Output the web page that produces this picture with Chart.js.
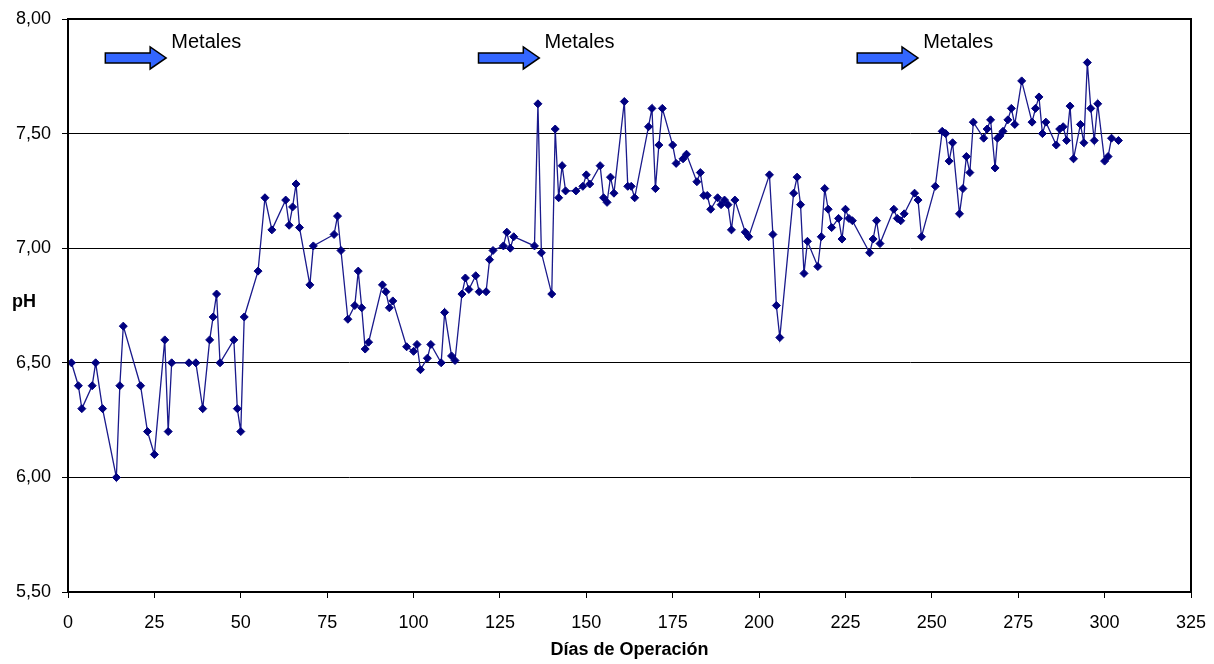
<!DOCTYPE html>
<html>
<head>
<meta charset="utf-8">
<script src="https://cdn.jsdelivr.net/npm/chart.js@4.4.1/dist/chart.umd.min.js"></script>
<style>
  body { margin: 0; background: #fff; }
</style>
</head>
<body>
<canvas id="phChart" width="1214" height="664"></canvas>
<script>
// -------- DATA: DIA DE OPERACION Y pH ---------------
const dias = [
  1, 3, 4, 7, 8, 10, 14, 15, 16, 21, 23, 25, 28, 29, 30, 35, 37, 39, 41, 42,
  43, 44, 48, 49, 50, 51, 55, 57, 59, 63, 64, 65, 66, 67, 70, 71, 77, 78, 79, 81,
  83, 84, 85, 86, 87, 91, 92, 93, 94, 98, 100, 101, 102, 104, 105, 108, 109, 111, 112, 114,
  115, 116, 118, 119, 121, 122, 123, 126, 127, 128, 129, 135, 136, 137, 140, 141, 142, 143, 144, 147,
  149, 150, 151, 154, 155, 156, 157, 158, 161, 162, 163, 164, 168, 169, 170, 171, 172, 175, 176, 178,
  179, 182, 183, 184, 185, 186, 188, 189, 190, 191, 192, 193, 196, 197, 203, 204, 205, 206, 210, 211,
  212, 213, 214, 217, 218, 219, 220, 221, 223, 224, 225, 226, 227, 232, 233, 234, 235, 239, 240, 241,
  242, 245, 246, 247, 251, 253, 254, 255, 256, 258, 259, 260, 261, 262, 265, 266, 267, 268.3, 269, 269.7,
  270.6, 272, 273, 274, 276, 279, 280, 281, 282, 283, 286, 287, 288, 289, 290, 291, 293, 294, 295, 296,
  297, 298, 300, 301, 302, 304
];
const ph = [
  6.50, 6.40, 6.30, 6.40, 6.50, 6.30, 6.00, 6.40, 6.66, 6.40, 6.20, 6.10, 6.60, 6.20, 6.50, 6.50, 6.50, 6.30, 6.60, 6.70,
  6.80, 6.50, 6.60, 6.30, 6.20, 6.70, 6.90, 7.22, 7.08, 7.21, 7.10, 7.18, 7.28, 7.09, 6.84, 7.01, 7.06, 7.14, 6.99, 6.69,
  6.75, 6.90, 6.74, 6.56, 6.59, 6.84, 6.81, 6.74, 6.77, 6.57, 6.55, 6.58, 6.47, 6.52, 6.58, 6.50, 6.72, 6.53, 6.51, 6.80,
  6.87, 6.82, 6.88, 6.81, 6.81, 6.95, 6.99, 7.01, 7.07, 7.00, 7.05, 7.01, 7.63, 6.98, 6.80, 7.52, 7.22, 7.36, 7.25, 7.25,
  7.27, 7.32, 7.28, 7.36, 7.22, 7.20, 7.31, 7.24, 7.64, 7.27, 7.27, 7.22, 7.53, 7.61, 7.26, 7.45, 7.61, 7.45, 7.37, 7.39,
  7.41, 7.29, 7.33, 7.23, 7.23, 7.17, 7.22, 7.19, 7.21, 7.19, 7.08, 7.21, 7.07, 7.05, 7.32, 7.06, 6.75, 6.61, 7.24, 7.31,
  7.19, 6.89, 7.03, 6.92, 7.05, 7.26, 7.17, 7.09, 7.13, 7.04, 7.17, 7.13, 7.12, 6.98, 7.04, 7.12, 7.02, 7.17, 7.13, 7.12,
  7.15, 7.24, 7.21, 7.05, 7.27, 7.51, 7.50, 7.38, 7.46, 7.15, 7.26, 7.40, 7.33, 7.55, 7.48, 7.52, 7.56, 7.35, 7.48, 7.49,
  7.51, 7.56, 7.61, 7.54, 7.73, 7.55, 7.61, 7.66, 7.50, 7.55, 7.45, 7.52, 7.53, 7.47, 7.62, 7.39, 7.54, 7.46, 7.81, 7.61,
  7.47, 7.63, 7.38, 7.40, 7.48, 7.47
];

// dia en que empieza cada flecha "Metales"
const metalesDias = [10.8, 118.8, 228.4];
const metalesTexto = "Metales";

const xTicks = { min: 0, max: 325, step: 25 };
const yTicks = { min: 5.5, max: 8.0, step: 0.5 };

const puntos = dias.map((d, i) => ({ x: d, y: ph[i] }));

const fontFam = '"Liberation Sans", Arial, Helvetica, sans-serif';
Chart.defaults.font.family = fontFam;
Chart.defaults.color = "#000";


// ------------ PLUGIN: MARCO, TITULO pH Y FLECHAS -----------------
const extras = {
  id: 'extras',
  afterDraw(chart) {
    const ctx = chart.ctx;
    const a = chart.chartArea;
    const x = chart.scales.x;
    const y = chart.scales.y;
    ctx.save();

    // marco del area de grafico
    ctx.strokeStyle = "#000";
    ctx.lineWidth = 2;
    ctx.strokeRect(a.left, a.top, a.right - a.left, a.bottom - a.top);

    // titulo eje Y (horizontal)
    ctx.fillStyle = "#000";
    ctx.font = 'bold 18px ' + fontFam;
    ctx.textAlign = 'left';
    ctx.textBaseline = 'alphabetic';
    ctx.fillText("pH", 12, (a.top + a.bottom) / 2 + 1.5);

    // flechas "Metales"
    metalesDias.forEach(d => {
      const x0 = x.getPixelForValue(d);
      const x1 = x.getPixelForValue(d + 17.6);
      const yc = y.getPixelForValue(7.83);
      const head = 16;
      ctx.beginPath();
      ctx.moveTo(x0, yc - 5);
      ctx.lineTo(x1 - head, yc - 5);
      ctx.lineTo(x1 - head, yc - 11);
      ctx.lineTo(x1, yc);
      ctx.lineTo(x1 - head, yc + 11);
      ctx.lineTo(x1 - head, yc + 5);
      ctx.lineTo(x0, yc + 5);
      ctx.closePath();
      ctx.fillStyle = "#3366FF";
      ctx.fill();
      ctx.strokeStyle = "#000";
      ctx.lineWidth = 1.5;
      ctx.stroke();

      ctx.fillStyle = "#000";
      ctx.font = '20px ' + fontFam;
      ctx.textAlign = 'left';
      ctx.textBaseline = 'alphabetic';
      ctx.fillText(metalesTexto, x.getPixelForValue(d + 19.1), y.getPixelForValue(7.875));
    });
    ctx.restore();
  }
};


// ------------ GRAFICO pH vs DIAS -----------------
new Chart(document.getElementById('phChart'), {
  type: 'scatter',
  data: {
    datasets: [{
      data: puntos,
      showLine: true,
      borderColor: "#1a1a8c",
      borderWidth: 1.3,
      backgroundColor: "#000080",
      pointBackgroundColor: "#000080",
      pointBorderColor: "#000080",
      pointStyle: 'rectRot',
      pointRadius: 4,
      pointBorderWidth: 1,
      tension: 0
    }]
  },
  options: {
    responsive: false,
    animation: false,
    layout: { padding: { top: 19, right: 23, left: 0, bottom: 0 } },
    plugins: {
      legend: { display: false },
      tooltip: { enabled: false }
    },
    scales: {
      x: {
        type: 'linear',
        min: xTicks.min,
        max: xTicks.max,
        afterFit: s => { s.height = 72; s.paddingLeft = 0; s.paddingRight = 0; },
        ticks: {
          stepSize: xTicks.step,
          color: "#000",
          padding: 14,
          maxRotation: 0,
          font: { size: 18 }
        },
        grid: { drawOnChartArea: false, drawTicks: true, tickLength: 6, color: "#000", lineWidth: 1 },
        border: { display: true, color: "#000", width: 2 },
        title: {
          display: true,
          text: "Días de Operación",
          color: "#000",
          font: { size: 18, weight: 'bold' },
          padding: { top: 0, bottom: 3 }
        }
      },
      y: {
        min: yTicks.min,
        max: yTicks.max,
        afterFit: s => { s.width = 68; s.paddingTop = 0; s.paddingBottom = 0; },
        ticks: {
          stepSize: yTicks.step,
          color: "#000",
          padding: 11,
          font: { size: 18 },
          callback: v => v.toFixed(2).replace('.', ',')
        },
        grid: { drawOnChartArea: true, drawTicks: true, tickLength: 6, color: "#000", lineWidth: 1 },
        border: { display: true, color: "#000", width: 2 }
      }
    }
  },
  plugins: [extras]
});
</script>
</body>
</html>
